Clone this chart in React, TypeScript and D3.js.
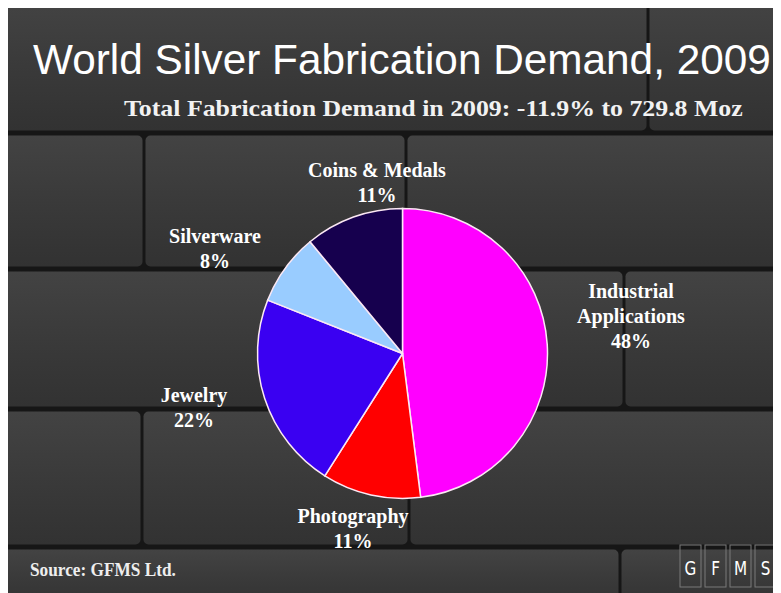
import * as d3 from "d3";
import { useEffect, useRef } from "react";

const segments = ["Industrial Applications", "Photography", "Jewelry", "Silverware", "Coins & Medals"];
const shares = [48, 11, 22, 8, 11];
const sliceColors = ["#ff00ff", "#ff0000", "#3a00f2", "#99ccff", "#16004e"];
const labelLines = [["Industrial", "Applications", "48%"], ["Photography", "11%"], ["Jewelry", "22%"], ["Silverware", "8%"], ["Coins & Medals", "11%"]];
// label anchors (centre x, first baseline y) per slice
const labelSpots = [[623, 290], [345, 515], [186, 394], [207, 235], [369, 169]];

// background brick rows: [top, bottom, seams x]
const brickRows: [number, number, number[]][] = [
  [-8, 124, [640]],
  [126, 260, [136, 398]],
  [262, 400, [616]],
  [402, 538, [134, 401]],
  [540, 600, [612]],
];

const W = 773;
const H = 585;

// squeeze a text horizontally to a given width (keeps its height)
function fitWidth(el: SVGTextElement | null, x: number, y: number, width: number) {
  if (!el) return;
  el.removeAttribute("transform");
  const natural = el.getComputedTextLength();
  const sx = natural > 0 ? width / natural : 1;
  el.setAttribute("transform", `translate(${x},${y}) scale(${sx},1)`);
}

export default function App() {
  const titleRef = useRef<SVGTextElement>(null);
  const subRef = useRef<SVGTextElement>(null);
  const srcRef = useRef<SVGTextElement>(null);

  useEffect(() => {
    fitWidth(titleRef.current, 25, 66, 738);
    fitWidth(subRef.current, 116, 108, 619);
    fitWidth(srcRef.current, 22, 568, 146);
  }, []);

  const cx = 394.5;
  const cy = 345.5;
  const r = 145;
  const pie = d3.pie<number>().sort(null).value((d) => d);
  const arcs = pie(shares);
  const arc = d3.arc<d3.PieArcDatum<number>>().innerRadius(0).outerRadius(r);

  const bricks: { x: number; y: number; w: number; h: number }[] = [];
  brickRows.forEach(([y0, y1, seams]) => {
    const edges = [-8, ...seams, W + 8];
    for (let i = 0; i < edges.length - 1; i++) {
      bricks.push({ x: edges[i] + 1.5, y: y0 + 1.5, w: edges[i + 1] - edges[i] - 3, h: y1 - y0 - 3 });
    }
  });

  const gfms = ["G", "F", "M", "S"];
  const serif = "'Liberation Serif', 'Times New Roman', serif";

  return (
    <svg width={W} height={H} style={{ display: "block" }}>
      <defs>
        <linearGradient id="brick" x1="0" y1="0" x2="0" y2="1">
          <stop offset="0" stopColor="#434343" />
          <stop offset="0.5" stopColor="#3a3a3a" />
          <stop offset="1" stopColor="#323232" />
        </linearGradient>
      </defs>
      <rect width={W} height={H} fill="#161616" />
      {bricks.map((b, i) => (
        <rect key={i} x={b.x} y={b.y} width={b.w} height={b.h} rx={5} fill="url(#brick)" />
      ))}

      <text ref={titleRef} transform="translate(25,66) scale(0.94,1)" fill="#fff"
        fontFamily="'Liberation Sans', Arial, sans-serif" fontSize={43}>
        World Silver Fabrication Demand, 2009
      </text>
      <text ref={subRef} transform="translate(116,108)" fill="#f2f2f2" fontFamily={serif}
        fontWeight="bold" fontSize={24}>
        Total Fabrication Demand in 2009: -11.9% to 729.8 Moz
      </text>

      <g transform={`translate(${cx},${cy})`}>
        {arcs.map((a, i) => (
          <path key={i} d={arc(a) ?? ""} fill={sliceColors[i]} stroke="#fbe8f4" strokeWidth={1.5} />
        ))}
      </g>

      {segments.map((s, i) => (
        <text key={s} fill="#fff" fontFamily={serif} fontWeight="bold"
          fontSize={20} textAnchor="middle">
          {labelLines[i].map((line, j) => (
            <tspan key={j} x={labelSpots[i][0]} y={labelSpots[i][1] + j * 25}>{line}</tspan>
          ))}
        </text>
      ))}

      <text ref={srcRef} transform="translate(22,568)" fill="#eee" fontFamily={serif}
        fontWeight="bold" fontSize={18}>
        Source: GFMS Ltd.
      </text>

      {gfms.map((g, i) => (
        <g key={g} transform={`translate(${672 + i * 25},${537})`}>
          <rect x={0} y={0} width={21} height={42} fill="none" stroke="#7a7a7a" strokeWidth={1} />
          <text x={10.5} y={30} textAnchor="middle" fill="#fff" fontFamily="'DejaVu Sans', sans-serif"
            fontSize={19} transform="translate(10.5,0) scale(0.8,1) translate(-10.5,0)">{g}</text>
        </g>
      ))}
    </svg>
  );
}
